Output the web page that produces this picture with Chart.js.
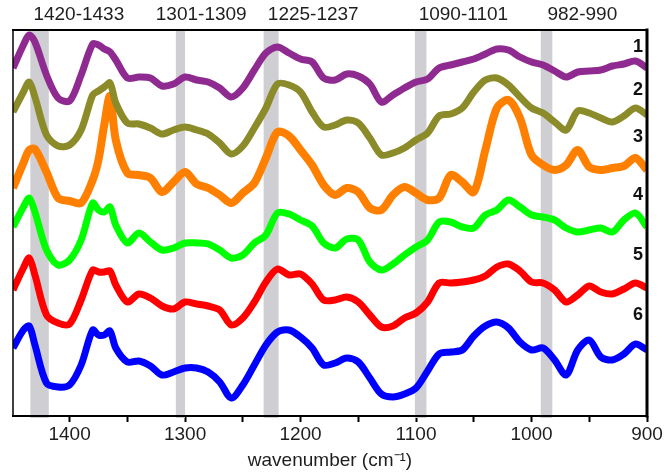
<!DOCTYPE html>
<html>
<head>
<meta charset="utf-8">
<script src="https://cdn.jsdelivr.net/npm/chart.js@4.4.1/dist/chart.umd.min.js"></script>
<style>
  html, body { margin: 0; padding: 0; background: #fff; }
  #wrap { width: 668px; height: 472px; }
</style>
</head>
<body>
<div id="wrap"><canvas id="c" width="668" height="472"></canvas></div>
<script>
// wavenumber (cm-1) sample positions
const wavenumbers = [1449,1440,1435,1430,1420,1410,1400,1390,1380,1375,1370,1365,1360,1350,1340,1330,1320,1310,1300,1290,1280,1270,1260,1250,1240,1230,1220,1210,1200,1190,1180,1170,1160,1150,1140,1130,1120,1110,1100,1090,1080,1070,1060,1050,1040,1030,1020,1010,1000,990,980,970,960,950,940,930,920,910,900];

// stacked spectra (arbitrary offset intensity units)
const spectrum1 = [348,371,381,374,341,318,315,341,372,371,367,364,356,338,339,338,330,332,339,336,334,328,319,328,346,363,369,363,357,354,338,336,342,340,332,314,321,328,334,337,348,351,354,357,362,367,366,359,354,351,345,339,344,345,346,350,352,355,348];
const spectrum2 = [304,324,334,319,281,270,271,286,321,325,329,333,313,293,292,288,282,286,289,286,282,273,262,270,288,308,332,331,324,304,289,291,296,293,278,261,263,268,276,283,300,302,308,324,336,338,331,319,308,303,294,286,305,303,298,294,300,308,301];
const spectrum3 = [228,253,266,267,244,218,215,213,236,256,291,320,276,243,241,238,224,234,244,232,228,221,213,223,233,258,284,280,266,251,231,221,228,224,208,206,221,229,223,216,218,241,234,224,266,308,316,298,261,251,246,251,266,249,246,248,250,258,246];
const spectrum4 = [189,209,218,204,166,151,156,176,213,206,204,209,191,173,183,174,166,168,173,173,172,166,158,161,173,181,203,202,196,190,173,168,177,176,154,146,152,161,169,176,194,194,189,188,201,206,216,209,201,199,196,188,184,186,188,184,196,203,189];
const spectrum5 = [126,148,158,141,101,93,92,116,146,144,144,145,131,114,122,118,110,107,114,112,110,106,91,98,114,134,147,141,142,132,116,116,119,114,101,89,90,98,103,114,133,133,134,136,140,149,152,145,134,133,126,114,121,130,124,122,127,133,128];
const spectrum6 = [68,86,90,71,33,29,31,51,86,81,81,85,68,54,55,50,41,44,48,48,44,34,18,31,51,71,84,86,79,68,51,53,58,54,38,22,19,22,28,45,62,64,66,80,90,94,88,74,66,68,56,41,66,76,59,56,62,72,66];

const seriesNames = ['1','2','3','4','5','6'];
const seriesColors = ['#8e2a90','#8b8b2a','#ff8000','#00ff00','#ff0000','#0000ff'];

// highlighted bands (cm-1)
const bandFrom = [1418,1300,1219,1091,982];
const bandTo   = [1434,1308,1232,1101,992];
const bandLabels = ['1420-1433','1301-1309','1225-1237','1090-1101','982-990'];

// axis ticks
const xTicks = [1400,1350,1300,1250,1200,1150,1100,1050,1000,950,900];
const xTickLabels = ['1400','','1300','','1200','','1100','','1000','','900'];
const xMin = 900, xMax = 1449;
const yMin = 0, yMax = 386;

// annotation anchors (layout)
const bandLabelAnchor = [1392,1286,1189,1059,956];
const seriesLabelAnchor = [369,326,279,221,161,101];

const FONT = '"Liberation Sans", Arial, Helvetica, sans-serif';
const spectra = [spectrum1,spectrum2,spectrum3,spectrum4,spectrum5,spectrum6];

const decor = {
  id: 'decor',
  beforeDatasetsDraw(chart) {
    const ctx = chart.ctx, a = chart.chartArea, xs = chart.scales.x;
    ctx.save();
    ctx.fillStyle = '#cfcfd3';
    for (let i = 0; i < bandFrom.length; i++) {
      const p1 = xs.getPixelForValue(bandTo[i]);
      const p2 = xs.getPixelForValue(bandFrom[i]);
      ctx.fillRect(Math.min(p1,p2), a.top, Math.abs(p2-p1), a.bottom - a.top + 2);
    }
    ctx.restore();
  },
  afterDraw(chart) {
    const ctx = chart.ctx, a = chart.chartArea, xs = chart.scales.x, ys = chart.scales.y;
    ctx.save();
    ctx.strokeStyle = '#000';
    ctx.lineCap = 'square';
    ctx.lineWidth = 1.5;
    ctx.beginPath(); ctx.moveTo(a.left, a.top); ctx.lineTo(a.left, a.bottom); ctx.stroke();
    ctx.lineWidth = 2;
    ctx.beginPath(); ctx.moveTo(a.left, a.top); ctx.lineTo(a.right, a.top); ctx.stroke();
    ctx.beginPath(); ctx.moveTo(a.left, a.bottom); ctx.lineTo(a.right, a.bottom); ctx.stroke();
    ctx.lineWidth = 3;
    ctx.beginPath(); ctx.moveTo(a.right, a.top); ctx.lineTo(a.right, a.bottom); ctx.stroke();
    ctx.fillStyle = '#1e1e1e';
    ctx.font = '19px ' + FONT;
    ctx.textAlign = 'center';
    ctx.textBaseline = 'middle';
    for (let i = 0; i < bandLabels.length; i++) {
      ctx.fillText(bandLabels[i], xs.getPixelForValue(bandLabelAnchor[i]), 15);
    }
    ctx.font = 'bold 18px ' + FONT;
    ctx.fillStyle = '#111';
    for (let i = 0; i < seriesNames.length; i++) {
      ctx.fillText(seriesNames[i], a.right - 9, ys.getPixelForValue(seriesLabelAnchor[i]));
    }
    ctx.restore();
  }
};

new Chart(document.getElementById('c'), {
  type: 'line',
  data: {
    datasets: spectra.map((s, i) => ({
      label: seriesNames[i],
      data: wavenumbers.map((w, j) => ({ x: w, y: s[j] })),
      borderColor: seriesColors[i],
      backgroundColor: seriesColors[i],
      borderWidth: i === 2 ? 8 : 7,
      pointRadius: 0,
      tension: 0.3,
      fill: false
    }))
  },
  options: {
    responsive: false,
    animation: false,
    devicePixelRatio: 1,
    layout: { padding: { left: 13, right: 21, top: 30, bottom: 0 } },
    plugins: { legend: { display: false }, tooltip: { enabled: false } },
    scales: {
      x: {
        type: 'linear',
        reverse: true,
        min: xMin,
        max: xMax,
        afterBuildTicks(scale) { scale.ticks = xTicks.map(v => ({ value: v })); },
        afterFit(scale) { scale.height = 56; },
        ticks: {
          autoSkip: false,
          maxRotation: 0,
          padding: 1,
          color: '#1e1e1e',
          font: { family: FONT, size: 19 },
          callback: (v) => { const k = xTicks.indexOf(v); return k >= 0 ? xTickLabels[k] : ''; }
        },
        grid: {
          drawOnChartArea: false,
          drawTicks: true,
          tickLength: 6,
          tickColor: '#000',
          tickWidth: 2
        },
        border: { display: false },
        title: {
          display: true,
          text: 'wavenumber (cm\u207B\u00B9)',
          color: '#1e1e1e',
          font: { family: FONT, size: 19 },
          padding: { top: 0, bottom: 0 }
        }
      },
      y: {
        display: false,
        min: yMin,
        max: yMax
      }
    }
  },
  plugins: [decor]
});
</script>
</body>
</html>
